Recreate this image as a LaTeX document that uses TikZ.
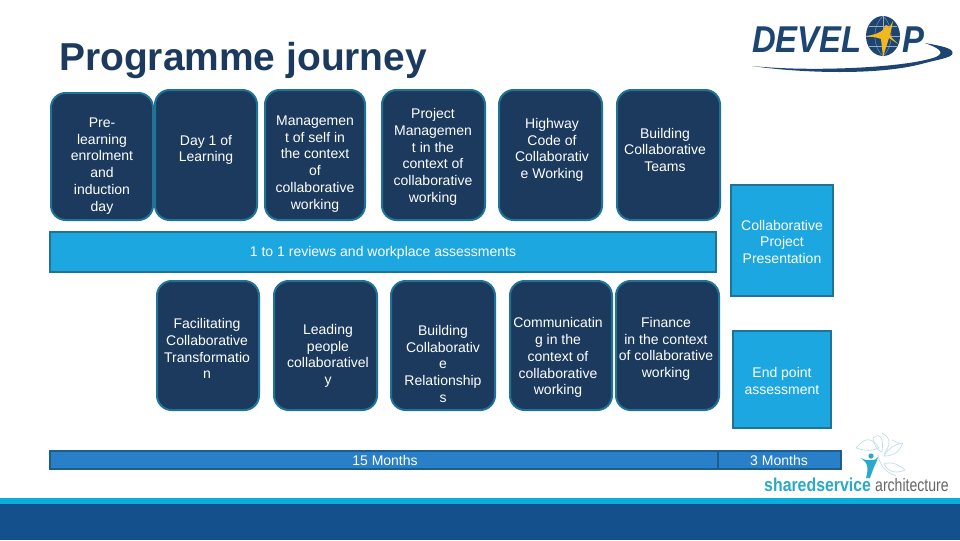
\documentclass[tikz,border=0pt]{standalone}
\usepackage{fontspec}
\setmainfont{Liberation Sans}
\definecolor{navy}{HTML}{1B3A5E}
\definecolor{edge}{HTML}{1F7396}
\definecolor{sky}{HTML}{1CA7E0}
\definecolor{barblue}{HTML}{2A80C8}
\definecolor{baredge}{HTML}{1B5E8E}
\definecolor{foot}{HTML}{14508C}
\definecolor{stripe}{HTML}{0AAEDC}
\definecolor{title}{HTML}{1B3A5E}
\definecolor{logoblue}{HTML}{1C4572}
\definecolor{star}{HTML}{F2B81F}
\definecolor{teal}{HTML}{2AA9C8}
\definecolor{petal}{HTML}{BFDDE8}
\tikzset{
  x=0.75pt,y=-0.75pt,
  darkbox/.style={draw=edge,line width=1.5pt,fill=navy,rounded corners=11pt,inner sep=0pt},
  skybox/.style={draw=edge,line width=1.5pt,fill=sky,inner sep=0pt},
  monthbar/.style={draw=baredge,line width=1.3pt,fill=barblue,inner sep=0pt},
  txt/.style={text=white,align=center,inner sep=0pt,yshift=-0.6pt,font=\fontsize{10.5}{12.55}\selectfont},
}
\newcommand{\bx}[9]{%
  \pgfmathsetmacro{\bw}{(#5-#3)*0.75}\pgfmathsetmacro{\bh}{(#6-#4)*0.75}%
  \node[#2,minimum width=\bw pt,minimum height=\bh pt] (#1) at ({(#3+#5)/2},{(#4+#6)/2}) {};
  \node[txt] (#1t) at (#7,#8) {#9};
}
\begin{document}
\begin{tikzpicture}
\useasboundingbox (0,0) rectangle (960,540);
\fill[white] (0,0) rectangle (960,540);
% footer
\fill[stripe] (0,498) rectangle (960,504);
\fill[foot] (0,504) rectangle (960,540);
% title
\node[anchor=base west,inner sep=0pt,text=title,font=\bfseries\fontsize{29.2}{34}\selectfont] (ttl) at (59,70) {Programme journey};
% top row
\bx{a}{darkbox}{51}{93}{153}{220}{102}{165}{Pre-\\learning\\enrolment\\and\\induction\\day}
\bx{b}{darkbox}{155}{90}{257}{220}{206}{149}{Day 1 of\\Learning}
\bx{c}{darkbox}{265}{90}{365}{220}{315}{163}{Managemen\\t of self in\\the context\\of\\collaborative\\working}
\bx{d}{darkbox}{382}{90}{485}{220}{433}{156}{Project\\Managemen\\t in the\\context of\\collaborative\\working}
\bx{e}{darkbox}{499}{90}{602}{220}{552}{149}{Highway\\Code of\\Collaborativ\\e Working}
\bx{f}{darkbox}{617}{90}{720}{220}{665}{149}{Building\\Collaborative\\Teams}
% reviews bar
\bx{g}{skybox}{50}{232}{716}{272}{383}{252}{1 to 1 reviews and workplace assessments}
% right column
\bx{h}{skybox}{731}{185}{833}{296}{782}{241}{Collaborative\\Project\\Presentation}
\bx{i}{skybox}{733}{331}{831}{428}{782}{380}{End point\\assessment}
% bottom row
\bx{j}{darkbox}{157}{281}{259}{410}{207}{348}{Facilitating\\Collaborative\\Transformatio\\n}
\bx{k}{darkbox}{274}{281}{377}{410}{328}{355}{Leading\\people\\collaborativel\\y}
\bx{l}{darkbox}{391}{281}{495}{410}{443}{363}{Building\\Collaborativ\\e\\Relationship\\s}
\bx{m}{darkbox}{510}{281}{612}{410}{558}{357}{Communicatin\\g in the\\context of\\collaborative\\working}
\bx{n}{darkbox}{616}{281}{719}{410}{666}{348}{Finance\\in the context\\of collaborative\\working}
% duration bars
\bx{o}{monthbar}{50}{451}{718}{469}{385}{460}{15 Months}
\bx{p}{monthbar}{718}{451}{841}{469}{779}{460}{3 Months}
% DEVELOP logo
\node[anchor=base west,inner sep=0pt,text=logoblue,xscale=0.88,font=\bfseries\itshape\fontsize{28}{30}\selectfont] (dv) at (752,52) {DEVEL};
\fill[logoblue] (883,36) ellipse [x radius=17,y radius=20];
\begin{scope}[draw=white!55!logoblue,line width=0.25pt]
\draw (883,16) -- (883,56) (866,36) -- (900,36) (869,26) -- (897,26) (869,46) -- (897,46);
\draw (883,16) .. controls (872,26) and (872,46) .. (883,56);
\draw (883,16) .. controls (894,26) and (894,46) .. (883,56);
\end{scope}
\fill[star] (866,36) .. controls (874,35) and (880,33) .. (884,29)
  .. controls (885,27) and (884,25) .. (886,25)
  .. controls (888,25) and (889,27) .. (889,28)
  -- (893,21) -- (891,31) .. controls (890,34) and (890,35) .. (891,37)
  -- (898,44) -- (889,38) -- (883,57) -- (881,39)
  .. controls (877,37) and (871,37) .. (866,36) -- cycle;
\node[anchor=base west,inner sep=0pt,text=logoblue,xscale=0.88,font=\bfseries\itshape\fontsize{28}{30}\selectfont] (pp) at (902,52) {P};
\fill[logoblue] (752,66) .. controls (800,73) and (880,76) .. (925,63)
  .. controls (945,58) and (955,57) .. (952,51)
  .. controls (949,47) and (935,45) .. (925,43)
  .. controls (938,48) and (946,52) .. (936,57)
  .. controls (905,68) and (810,72) .. (752,66) -- cycle;
% shared service logo
\begin{scope}[draw=petal,line width=0.5pt]
\draw (856,448) .. controls (866,436) and (872,438) .. (879,448) .. controls (870,452) and (862,450) .. (856,448);
\draw (873,438) .. controls (880,432) and (884,438) .. (882,452) .. controls (876,450) and (874,444) .. (873,438);
\draw (882,433) .. controls (892,438) and (890,446) .. (884,454);
\draw (903,443) .. controls (898,454) and (892,456) .. (884,456) .. controls (888,448) and (896,444) .. (903,443);
\draw (892,440) -- (901,444) (878,455) .. controls (880,465) and (885,472) .. (896,476);
\draw (905,470) .. controls (896,462) and (888,462) .. (884,464) .. controls (888,472) and (896,474) .. (905,470);
\end{scope}
\fill[teal] (871,456) circle [radius=2.6];
\fill[teal] (861,458) .. controls (865,460) and (868,461) .. (871,460) .. controls (874,461) and (877,459) .. (878,457)
  .. controls (877,462) and (875,464) .. (874,467) -- (870,478) -- (866,478)
  .. controls (868,472) and (868,466) .. (866,463) -- cycle;
\node[anchor=base west,inner sep=0pt,text=teal,font=\bfseries\fontsize{14}{15}\selectfont,xscale=0.85] (ss) at (764,491) {sharedservice};
\node[anchor=base west,inner sep=0pt,text=black!60,font=\fontsize{13.5}{15}\selectfont,xscale=0.78] (ar) at (875,491) {architecture};
\end{tikzpicture}
\end{document}
